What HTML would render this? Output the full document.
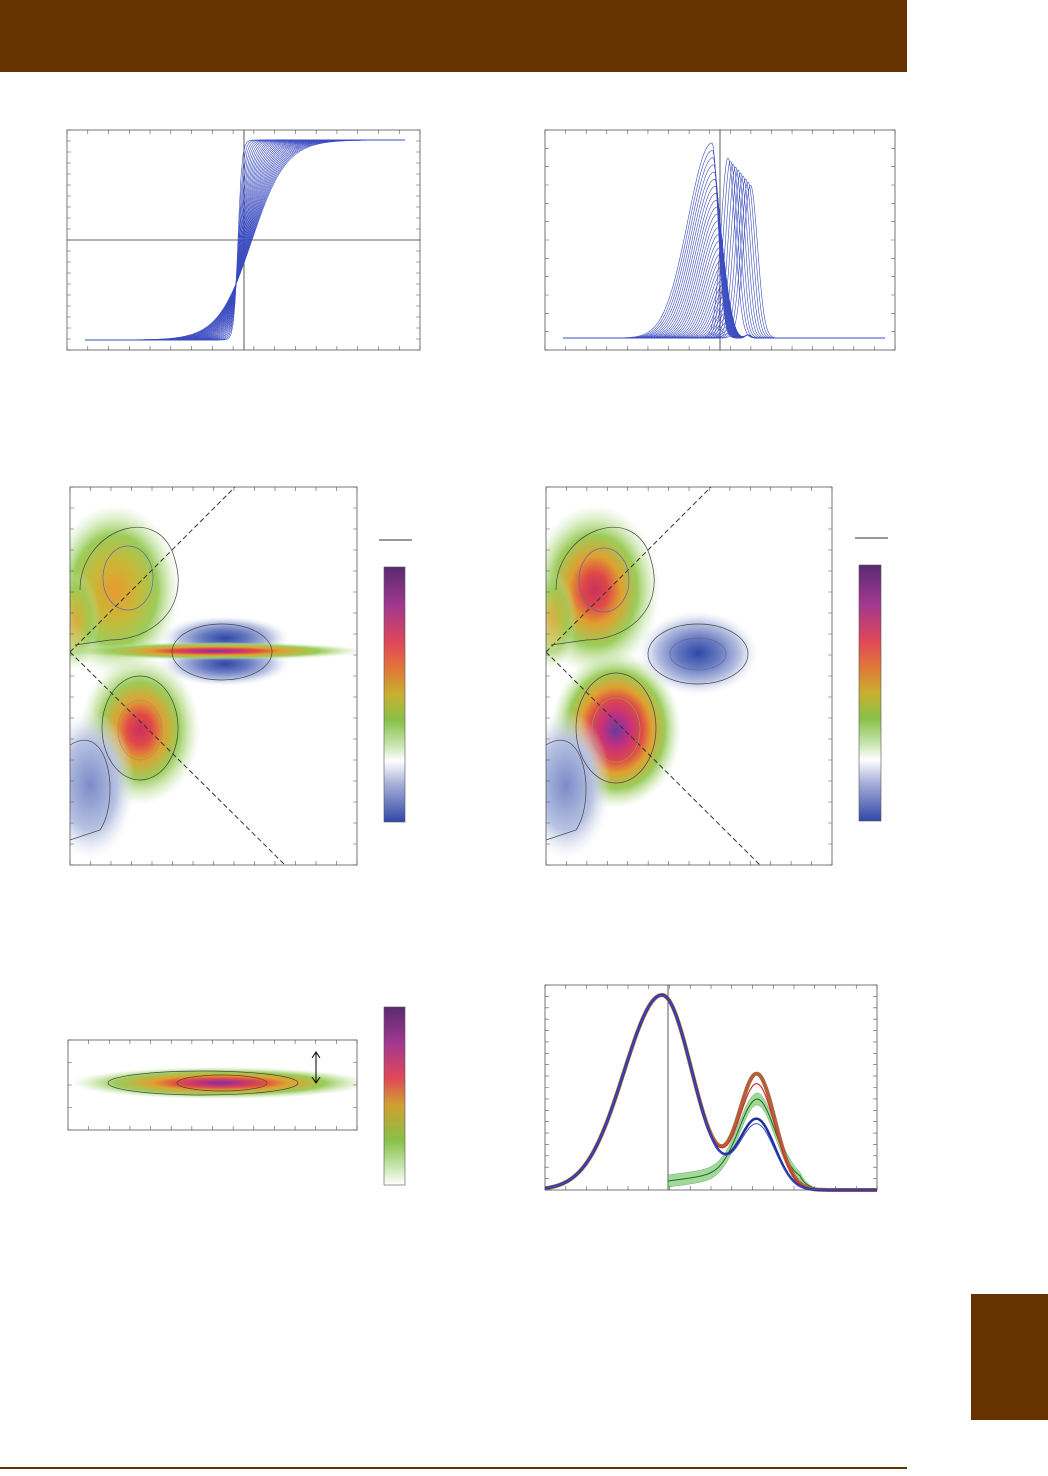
<!DOCTYPE html>
<html><head><meta charset="utf-8"><style>
html,body{margin:0;padding:0;background:#fff;}
body{width:1048px;height:1471px;position:relative;overflow:hidden;font-family:"Liberation Sans",sans-serif;}
</style></head><body>
<svg id="s" width="1048" height="1471" viewBox="0 0 1048 1471" xmlns="http://www.w3.org/2000/svg">
<defs>
<radialGradient id="gOr"><stop offset="0" stop-color="#e89a30"/><stop offset="0.35" stop-color="#c9b838"/><stop offset="0.65" stop-color="#9bcc5a"/><stop offset="1" stop-color="#c8e6b0" stop-opacity="0"/></radialGradient>
<radialGradient id="gRed"><stop offset="0" stop-color="#c83060"/><stop offset="0.2" stop-color="#e04848"/><stop offset="0.4" stop-color="#e0a030"/><stop offset="0.65" stop-color="#9bcc5a"/><stop offset="1" stop-color="#c8e6b0" stop-opacity="0"/></radialGradient>
<radialGradient id="gRed2"><stop offset="0" stop-color="#6a3aa0"/><stop offset="0.2" stop-color="#c03080"/><stop offset="0.4" stop-color="#e04848"/><stop offset="0.55" stop-color="#e0a030"/><stop offset="0.75" stop-color="#9bcc5a"/><stop offset="1" stop-color="#c8e6b0" stop-opacity="0"/></radialGradient>
<radialGradient id="gBlue"><stop offset="0" stop-color="#7a8cc8"/><stop offset="0.6" stop-color="#b8c2e2"/><stop offset="1" stop-color="#e8ecf6" stop-opacity="0"/></radialGradient>
<radialGradient id="gBlue2"><stop offset="0" stop-color="#3048a8"/><stop offset="0.35" stop-color="#6678c0"/><stop offset="0.7" stop-color="#b8c2e2"/><stop offset="1" stop-color="#e8ecf6" stop-opacity="0"/></radialGradient>
<radialGradient id="gBand"><stop offset="0" stop-color="#6a3aa0"/><stop offset="0.15" stop-color="#c03080"/><stop offset="0.3" stop-color="#e05040"/><stop offset="0.45" stop-color="#e0a030"/><stop offset="0.7" stop-color="#9bcc5a"/><stop offset="1" stop-color="#c8e6b0" stop-opacity="0"/></radialGradient>
<linearGradient id="cb" x1="0" y1="0" x2="0" y2="1"><stop offset="0" stop-color="#5a2a70"/><stop offset="0.15" stop-color="#a03890"/><stop offset="0.3" stop-color="#e04858"/><stop offset="0.4" stop-color="#e07838"/><stop offset="0.5" stop-color="#c8b030"/><stop offset="0.6" stop-color="#88c048"/><stop offset="0.7" stop-color="#c8e6b0"/><stop offset="0.76" stop-color="#ffffff"/><stop offset="0.85" stop-color="#a8b0d8"/><stop offset="1" stop-color="#3048a8"/></linearGradient>
<linearGradient id="cb2" x1="0" y1="0" x2="0" y2="1"><stop offset="0" stop-color="#5a2a70"/><stop offset="0.2" stop-color="#a03890"/><stop offset="0.4" stop-color="#e04858"/><stop offset="0.55" stop-color="#d0a030"/><stop offset="0.75" stop-color="#88c048"/><stop offset="0.9" stop-color="#c8e6b0"/><stop offset="1" stop-color="#ffffff"/></linearGradient>
<clipPath id="c3"><rect x="70" y="487" width="287" height="378"/></clipPath>
<clipPath id="c4"><rect x="546" y="487" width="286" height="378"/></clipPath>
<clipPath id="c5"><rect x="68" y="1040" width="289" height="90"/></clipPath>
</defs>
<rect x="0" y="0" width="907" height="72" fill="#663300"/>
<rect x="971" y="1294" width="77" height="126" fill="#663300"/>
<rect x="0" y="1467" width="907" height="2" fill="#663300"/>

<rect x="67" y="130" width="353" height="220" fill="none" stroke="#555" stroke-width="0.8"/>
<line x1="244" y1="130" x2="244" y2="350" stroke="#333" stroke-width="0.8"/>
<line x1="67" y1="240" x2="420" y2="240" stroke="#333" stroke-width="0.8"/>
<g id="p1" fill="none" stroke="#3b4cc0" stroke-width="0.6"></g>
<rect x="545" y="130" width="350" height="220" fill="none" stroke="#555" stroke-width="0.8"/>
<line x1="720" y1="130" x2="720" y2="350" stroke="#333" stroke-width="0.8"/>
<g id="p2" fill="none" stroke="#3b4cc0" stroke-width="0.6"></g>

<g clip-path="url(#c3)">
<ellipse cx="115" cy="590" rx="65" ry="85" fill="url(#gOr)"/>
<ellipse cx="75" cy="620" rx="25" ry="50" fill="url(#gOr)" opacity="0.7"/>
<ellipse cx="140" cy="730" rx="60" ry="75" fill="url(#gRed)"/>
<ellipse cx="90" cy="785" rx="45" ry="75" fill="url(#gBlue)"/>
<ellipse cx="225" cy="638" rx="65" ry="22" fill="url(#gBlue2)"/>
<ellipse cx="225" cy="664" rx="65" ry="22" fill="url(#gBlue2)"/>
<ellipse cx="215" cy="651" rx="150" ry="9" fill="url(#gBand)"/>
<line x1="70" y1="652" x2="235" y2="487" stroke="#333" stroke-dasharray="5,3"/>
<line x1="70" y1="652" x2="285" y2="865" stroke="#333" stroke-dasharray="5,3"/>
<g fill="none" stroke="#444" stroke-width="0.7">
<path d="M80,590 C80,530 160,500 175,560 C190,610 150,640 110,640 L75,645"/>
<ellipse cx="128" cy="578" rx="25" ry="32" stroke="#6666aa"/>
<ellipse cx="140" cy="728" rx="38" ry="52"/>
<ellipse cx="140" cy="730" rx="22" ry="30" stroke="#996"/>
<ellipse cx="222" cy="652" rx="50" ry="28"/>
<path d="M70,745 C110,720 120,800 100,830 L70,840"/>
</g>
</g>
<rect x="70" y="487" width="287" height="378" fill="none" stroke="#555" stroke-width="0.8"/>
<rect x="384" y="567" width="21" height="255" fill="url(#cb)" stroke="#555" stroke-width="0.6"/>
<line x1="379" y1="540" x2="412" y2="540" stroke="#333"/>

<g clip-path="url(#c4)">
<ellipse cx="595" cy="590" rx="65" ry="85" fill="url(#gRed)"/>
<ellipse cx="552" cy="620" rx="25" ry="50" fill="url(#gOr)" opacity="0.7"/>
<ellipse cx="616" cy="730" rx="65" ry="78" fill="url(#gRed2)"/>
<ellipse cx="566" cy="785" rx="45" ry="75" fill="url(#gBlue)"/>
<ellipse cx="698" cy="653" rx="60" ry="42" fill="url(#gBlue2)"/>
<line x1="546" y1="652" x2="711" y2="487" stroke="#333" stroke-dasharray="5,3"/>
<line x1="546" y1="652" x2="760" y2="865" stroke="#333" stroke-dasharray="5,3"/>
<g fill="none" stroke="#444" stroke-width="0.7">
<path d="M556,590 C556,530 636,500 651,560 C666,610 626,640 586,640 L551,645"/>
<ellipse cx="604" cy="580" rx="25" ry="32" stroke="#6666aa"/>
<ellipse cx="616" cy="728" rx="40" ry="55"/>
<ellipse cx="616" cy="730" rx="24" ry="32" stroke="#996"/>
<ellipse cx="698" cy="654" rx="50" ry="30"/>
<ellipse cx="698" cy="654" rx="28" ry="16" stroke="#669"/>
<path d="M546,745 C586,720 596,800 576,830 L546,840"/>
</g>
</g>
<rect x="546" y="487" width="286" height="378" fill="none" stroke="#555" stroke-width="0.8"/>
<rect x="859" y="565" width="22" height="256" fill="url(#cb)" stroke="#555" stroke-width="0.6"/>
<line x1="855" y1="538" x2="888" y2="538" stroke="#333"/>

<g clip-path="url(#c5)">
<ellipse cx="220" cy="1083" rx="150" ry="16" fill="url(#gBand)"/>
<ellipse cx="203" cy="1083" rx="95" ry="12" fill="none" stroke="#444" stroke-width="0.7"/>
<ellipse cx="222" cy="1083" rx="45" ry="8" fill="none" stroke="#444" stroke-width="0.7"/>
</g>
<rect x="68" y="1040" width="289" height="90" fill="none" stroke="#555" stroke-width="0.8"/>
<path d="M316,1053 L316,1082 M312,1058 L316,1052 L320,1058 M312,1077 L316,1083 L320,1077" stroke="#000" fill="none"/>
<rect x="384" y="1007" width="21" height="178" fill="url(#cb2)" stroke="#555" stroke-width="0.6"/>

<rect x="545" y="985" width="332" height="205" fill="none" stroke="#555" stroke-width="0.8"/>
<line x1="668" y1="985" x2="668" y2="1190" stroke="#333" stroke-width="0.8"/>
<g id="p6"></g>
</svg>
<script>
(function(){
var ns="http://www.w3.org/2000/svg";
function path(g,d,attrs){var p=document.createElementNS(ns,"path");p.setAttribute("d",d);for(var k in attrs)p.setAttribute(k,attrs[k]);document.getElementById(g).appendChild(p);}
for(var i=0;i<30;i++){var t=i/29;var c=238+t*14;var w=4+t*30;var d="";
for(var x=85;x<=405;x+=2){var y=240-100*Math.tanh((x-c)/w);d+=(x==85?"M":"L")+x+","+y.toFixed(1);}
path("p1",d,{});}
function ticks(x0,x1,y0,y1,nx,ny){var d="";
for(var i=0;i<=nx;i++){var x=x0+(x1-x0)*i/nx;d+="M"+x+","+y0+"v4M"+x+","+y1+"v-4";}
for(var j=0;j<=ny;j++){var y=y0+(y1-y0)*j/ny;d+="M"+x0+","+y+"h4M"+x1+","+y+"h-4";}
path("s",d,{stroke:"#555","stroke-width":"0.6",fill:"none"});}
ticks(67,420,130,350,17,20);ticks(545,895,130,350,17,12);ticks(70,357,487,865,14,18);ticks(546,832,487,865,14,18);ticks(68,357,1040,1130,14,4);ticks(545,877,985,1190,16,18);
for(var i=0;i<32;i++){var t=i/31;var h=190*Math.pow(t,1.2)+5;var c=712+(1-t)*18;var wl=6+t*18,wr=6;
var d="";for(var x=563;x<=885;x+=1){var s=(x<c)?wl:wr;var y=338-h*Math.exp(-Math.pow((x-c)/s,2)/2)-3*Math.exp(-Math.pow((x-748)/4,2));d+=(x==563?"M":"L")+x+","+y.toFixed(1);}
path("p2",d,{});}
for(var i=0;i<10;i++){var c=728+i*2.5;var h=180-i*3;var d="";for(var x=700;x<=780;x+=1){var y=338-h*Math.exp(-Math.pow((x-c)/7,2)/2);d+=(x==700?"M":"L")+x+","+y.toFixed(1);}path("p2",d,{});}
function f(x,p2){var g1=x<662?Math.exp(-Math.pow((x-662)/38,2)/2):Math.exp(-Math.pow((x-662)/30,2)/2);
var g2=Math.exp(-Math.pow((x-757)/18,2)/2);return 1190-195*g1-p2*g2;}
function curve(p2,col,w){var d="";for(var x=545;x<=877;x+=1){d+=(x==545?"M":"L")+x+","+f(x,p2).toFixed(1);}path("p6",d,{stroke:col,"stroke-width":w,fill:"none"});}
function gy(x){var r=x<757?(x-668)/89:Math.exp(-Math.pow((x-757)/20,2)/2);var y=1181-70*Math.exp(-Math.pow((x-757)/18,2)/2)-12*r;
if(x>757){var base=1190-9*Math.exp(-Math.pow((x-757)/25,2)/2);y=Math.min(1190,y+0);y=Math.max(y,1190-(1190-y));}
if(x>800)y=Math.min(1190,1190-(1190-y)*Math.exp(-(x-800)/10));return y;}
function hw(x){return x>790?Math.max(0,6*(1-(x-790)/25)):6;}
var up="",lo="",gd="";for(var x=668;x<=877;x+=1){var y=gy(x),h=hw(x);
up+=(x==668?"M":"L")+x+","+(y-h).toFixed(1);lo="L"+x+","+Math.min(1190,y+h).toFixed(1)+lo;gd+=(x==668?"M":"L")+x+","+y.toFixed(1);}
path("p6",up+lo+"Z",{fill:"#7cc870",opacity:"0.7",stroke:"#2a8a30","stroke-width":"0.5"});
path("p6",gd,{stroke:"#1a6a20","stroke-width":"1",fill:"none"});
curve(115,"#b0603a",4);curve(105,"#d03030",1.2);curve(70,"#2030a0",2.5);curve(65,"#4050c0",1);
})();
</script>
</body></html>
